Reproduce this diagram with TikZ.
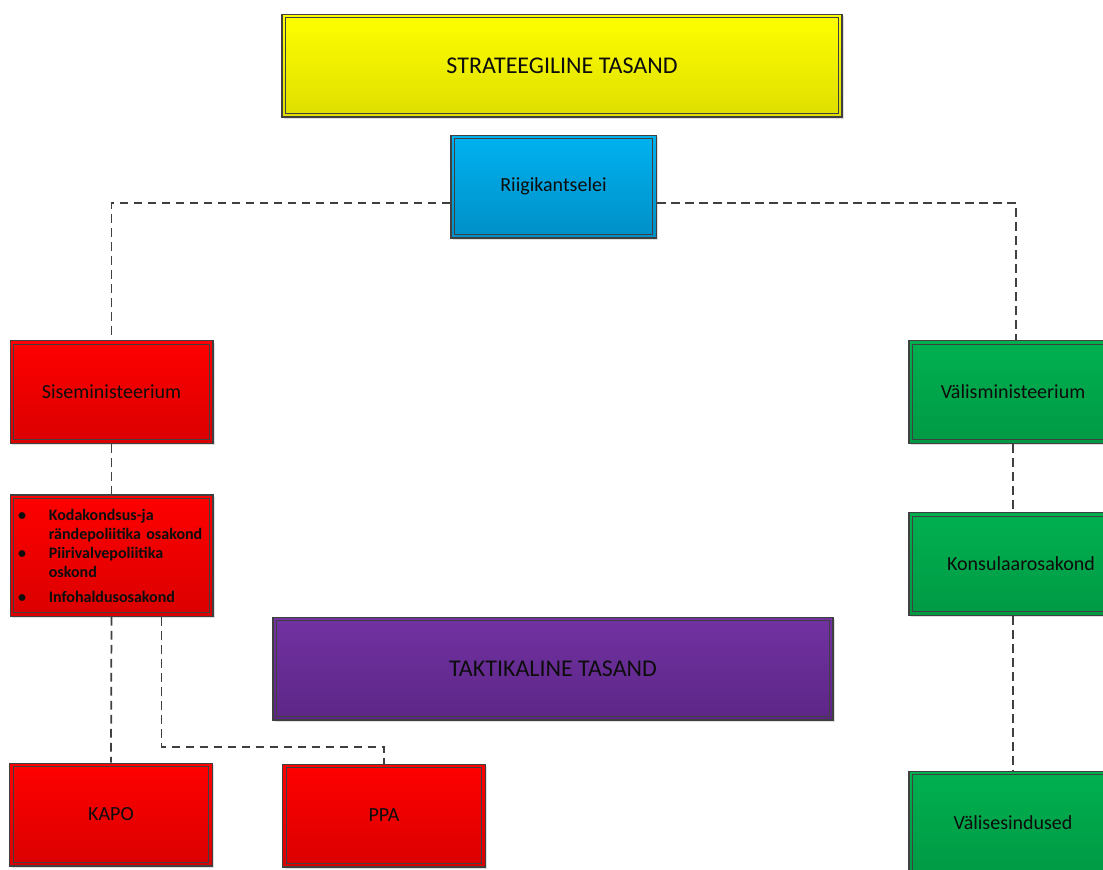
\documentclass[tikz,border=0pt]{standalone}
\usepackage{fontspec}
\setmainfont{Carlito}
\usetikzlibrary{shadows,calc}
\definecolor{BoxLine}{HTML}{404040}
\definecolor{YellowTop}{HTML}{FFFF00}
\definecolor{YellowBot}{HTML}{DEDE00}
\definecolor{BlueTop}{HTML}{00B2F0}
\definecolor{BlueBot}{HTML}{008FC6}
\definecolor{RedTop}{HTML}{FF0000}
\definecolor{RedBot}{HTML}{DA0000}
\definecolor{GreenTop}{HTML}{00B050}
\definecolor{GreenBot}{HTML}{009A44}
\definecolor{PurpleTop}{HTML}{7232A2}
\definecolor{PurpleBot}{HTML}{5C2686}

\tikzset{
  unit/.style={draw=BoxLine, line width=1pt, inner sep=0pt,
    minimum width=152pt, minimum height=77pt,
    font=\fontsize{15}{18}\selectfont, text=black!95,
    drop shadow={shadow xshift=1.5pt, shadow yshift=-1.5pt,
                 fill=black!25, opacity=0.5},
    path picture={\draw[BoxLine, line width=0.6pt]
      ([shift={(2.6pt,-2.6pt)}]path picture bounding box.north west) rectangle
      ([shift={(-2.6pt,2.6pt)}]path picture bounding box.south east);}},
  level/.style={unit, minimum width=420pt, font=\fontsize{18}{22}\selectfont},
  yellowunit/.style={top color=YellowTop, bottom color=YellowBot},
  blueunit/.style={unit, top color=BlueTop, bottom color=BlueBot},
  redunit/.style={unit, top color=RedTop, bottom color=RedBot},
  greenunit/.style={unit, minimum width=156pt, top color=GreenTop, bottom color=GreenBot},
  purpleunit/.style={top color=PurpleTop, bottom color=PurpleBot},
  link/.style={draw=BoxLine, line width=1.3pt, dash pattern=on 6.5pt off 4pt}
}

\begin{document}
\begin{tikzpicture}[x=0.75pt, y=-0.75pt]
  \useasboundingbox (0,0) rectangle (1103,869);

  % levels
  \node[level, yellowunit] (strat) at (562,65.5) {STRATEEGILINE TASAND};
  \node[level, purpleunit] (takt) at (553,668.5) {TAKTIKALINE TASAND};

  % government office
  \node[blueunit, minimum width=154pt] (riik) at (553.5,186.5) {Riigikantselei};

  % interior side
  \node[redunit] (sise) at (111.5,392) {Siseministeerium};
  \node[redunit, minimum height=91pt, text width=140pt, inner xsep=6pt,
        align=left, font=\fontsize{12}{14.25}\selectfont\bfseries] (osak) at (111.5,555.5) {%
    \makebox[23pt][l]{\textbullet}Kodakondsus-ja\\
    \hspace*{23pt}rändepoliitika osakond\\
    \makebox[23pt][l]{\textbullet}Piirivalvepoliitika\\
    \hspace*{23pt}oskond\\[4.5pt]
    \makebox[23pt][l]{\textbullet}Infohaldusosakond};
  \node[redunit] (kapo) at (111,814.5) {KAPO};
  \node[redunit] (ppa) at (384,815.5) {PPA};

  % foreign side
  \node[greenunit] (valis) at (1013,392) {Välisministeerium};
  \node[greenunit] (konsul) at (1013,564) {\hspace*{12pt}Konsulaarosakond};
  \node[greenunit] (esind) at (1013,822.5) {Välisesindused};

  % links
  \draw[link] ($(riik.west)+(0,16.5)$) -| (sise.north);
  \draw[link] ($(riik.east)+(0,16.5)$) -| ([xshift=2.25pt]valis.north);
  \draw[link] (sise.south) -- (osak.north);
  \draw[link] (osak.south) -- (kapo.north);
  \draw[link] ([xshift=37.5pt]osak.south) -- ++(0,130) -| (ppa.north);
  \draw[link] (valis.south) -- (konsul.north);
  \draw[link] (konsul.south) -- (esind.north);
\end{tikzpicture}
\end{document}
